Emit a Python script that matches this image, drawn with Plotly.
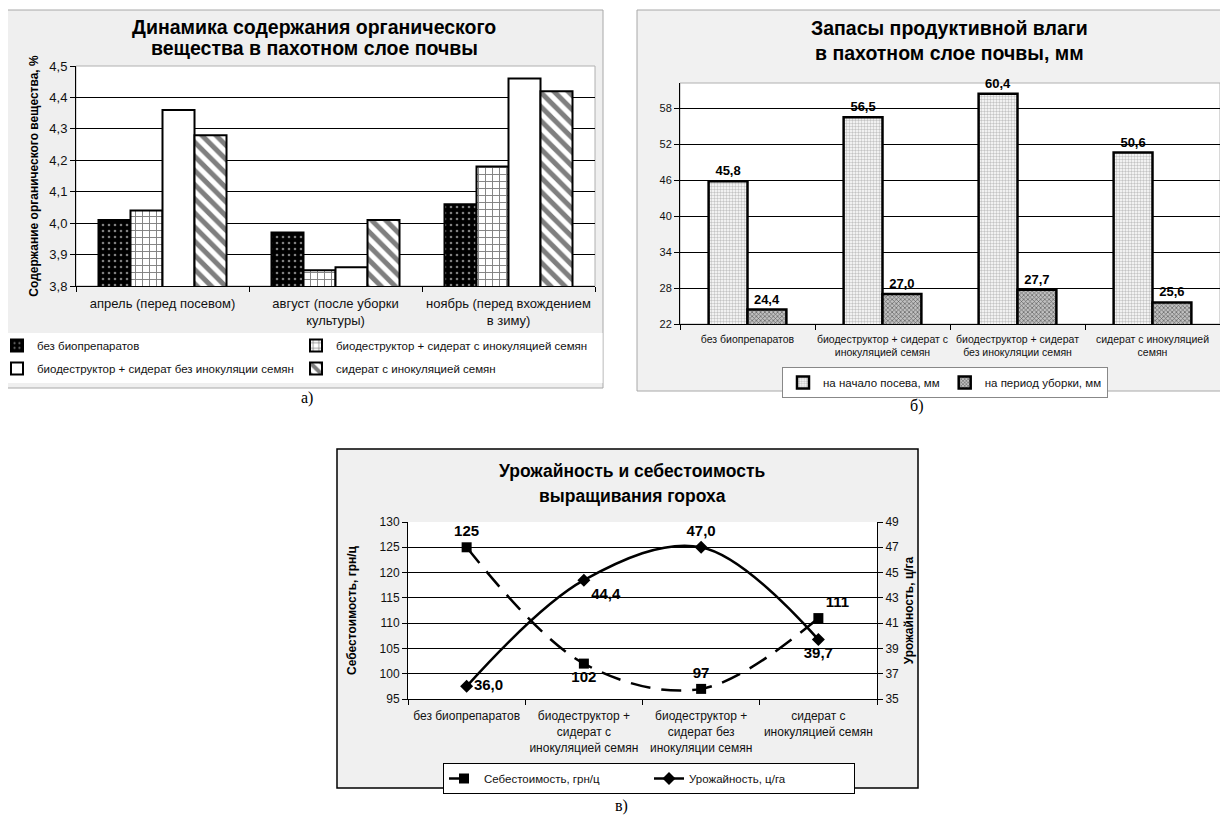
import plotly.graph_objects as go

# the page body adds an 8px margin, so the figure is 8px smaller on each side
W, H = 1220, 810
OFF = 8
def X(px): return (px - OFF) / W
def Y(py): return 1 - (py - OFF) / H

FONT = "Liberation Sans"
SERIF = "Liberation Serif"

# ---------------- data: chart a ----------------
periods = ["апрель (перед посевом)", "август (после уборки<br>культуры)",
           "ноябрь (перед вхождением<br>в зиму)"]
a_names = ["без биопрепаратов", "биодеструктор + сидерат с инокуляцией семян",
           "биодеструктор + сидерат без инокуляции семян", "сидерат с инокуляцией семян"]
a_no_bio = [4.01, 3.97, 4.06]
a_bio_inoc = [4.04, 3.85, 4.18]
a_bio_noinoc = [4.36, 3.86, 4.46]
a_sid_inoc = [4.28, 4.01, 4.42]
a_ticks = [3.8, 3.9, 4.0, 4.1, 4.2, 4.3, 4.4, 4.5]

# ---------------- data: chart b ----------------
variants_b = ["без биопрепаратов", "биодеструктор + сидерат с<br>инокуляцией семян",
              "биодеструктор + сидерат<br>без инокуляции семян", "сидерат с инокуляцией<br>семян"]
b_names = ["на начало посева, мм", "на период уборки, мм"]
b_sowing = [45.8, 56.5, 60.4, 50.6]
b_harvest = [24.4, 27.0, 27.7, 25.6]
b_ticks = [22, 28, 34, 40, 46, 52, 58]

# ---------------- data: chart c ----------------
variants_c = ["без биопрепаратов", "биодеструктор +<br>сидерат с<br>инокуляцией семян",
              "биодеструктор +<br>сидерат без<br>инокуляции семян", "сидерат с<br>инокуляцией семян"]
c_names = ["Себестоимость, грн/ц", "Урожайность, ц/га"]
c_cost = [125, 102, 97, 111]
c_yield = [36.0, 44.4, 47.0, 39.7]
c_left_ticks = [95, 100, 105, 110, 115, 120, 125, 130]
c_right_ticks = [35, 37, 39, 41, 43, 45, 47, 49]

fig = go.Figure()

# ---- chart a bars ----
a_series = [a_no_bio, a_bio_inoc, a_bio_noinoc, a_sid_inoc]
a_patterns = [
    dict(shape=".", fgcolor="white", bgcolor="black", size=6, solidity=0.15),
    dict(shape="+", fgcolor="black", bgcolor="white", size=7, solidity=0.25),
    dict(shape="", bgcolor="white"),
    dict(shape="\\", fgcolor="black", bgcolor="white", size=10, solidity=0.5),
]
a_offsets = [-0.37, -0.185, 0.0, 0.185]
a_legends = ["legend", "legend2", "legend", "legend2"]
for i in range(4):
    fig.add_trace(go.Bar(
        x=periods, y=a_series[i], name=a_names[i], xaxis="x", yaxis="y",
        width=0.185, offset=a_offsets[i],
        marker=dict(color="white", pattern=a_patterns[i], line=dict(color="black", width=2)),
        legend=a_legends[i], legendgroup="a%d" % i,
    ))

# ---- chart b bars ----
b_series = [b_sowing, b_harvest]
b_patterns = [
    dict(shape=".", fgcolor="#8a8a8a", bgcolor="white", size=3, solidity=0.5),
    dict(shape="x", fgcolor="black", bgcolor="#c0c0c0", size=3, solidity=0.4),
]
b_offsets = [-0.288, 0.0]
for i in range(2):
    fig.add_trace(go.Bar(
        x=variants_b, y=b_series[i], name=b_names[i], xaxis="x2", yaxis="y2",
        width=0.288, offset=b_offsets[i],
        marker=dict(color="white", pattern=b_patterns[i], line=dict(color="black", width=2.5)),
        texttemplate="%{y:.1f}", textposition="outside", cliponaxis=False,
        textfont=dict(family=FONT, size=13, color="black", weight="bold"),
        legend="legend3",
    ))

# ---- chart c lines ----
fig.add_trace(go.Scatter(
    x=variants_c, y=c_cost, name=c_names[0], xaxis="x3", yaxis="y3",
    mode="lines+markers+text",
    line=dict(color="black", width=2.5, dash="20px,11px", shape="spline", smoothing=1.0),
    marker=dict(symbol="square", size=10, color="black"),
    text=[str(v) for v in c_cost],
    textposition=["top center", "bottom center", "top center", "top right"],
    textfont=dict(family=FONT, size=15, color="black", weight="bold"),
    cliponaxis=False, legend="legend4",
))
fig.add_trace(go.Scatter(
    x=variants_c, y=c_yield, name=c_names[1], xaxis="x3", yaxis="y4",
    mode="lines+markers+text",
    line=dict(color="black", width=2.5, shape="spline", smoothing=1.0),
    marker=dict(symbol="diamond", size=10, color="black"),
    texttemplate="%{y:.1f}",
    textposition=["middle right", "bottom right", "top center", "bottom center"],
    textfont=dict(family=FONT, size=15, color="black", weight="bold"),
    cliponaxis=False, legend="legend4",
))

# ---- background shapes ----
def rect(x0, x1, y0, y1, fill, lc=None, lw=0):
    return dict(type="rect", xref="paper", yref="paper", x0=X(x0), x1=X(x1), y0=Y(y1), y1=Y(y0),
                fillcolor=fill, line=dict(color=lc or fill, width=lw), layer="below")

shapes = [
    # chart a
    rect(7, 603, 10, 388, "#efefef", "#a8a8a8", 1),
    rect(7.5, 602.5, 333, 383, "white"),
    rect(76, 595, 66, 286, "white", "#b0b0b0", 1),
    # chart b
    rect(637, 1222, 10, 391, "#f1f1f1", "#a8a8a8", 1),
    rect(680, 1220, 83, 324, "white", "#b0b0b0", 1),
    # chart c
    rect(337, 918, 449, 788, "#f0f0f0", "black", 1.5),
    rect(408, 877, 522, 699, "white"),
]

def text_ann(text, x, y, size, family=FONT):
    return dict(text=text, x=X(x), y=Y(y), xref="paper", yref="paper", showarrow=False,
                xanchor="center", yanchor="middle", align="center",
                font=dict(family=family, size=size, color="black"))

annotations = [
    text_ann("<b>Динамика содержания органического</b>", 314, 27, 19.5),
    text_ann("<b>вещества в пахотном слое почвы</b>", 314, 48, 19.5),
    text_ann("<b>Запасы продуктивной влаги</b>", 950, 28, 19.5),
    text_ann("<b>в пахотном слое почвы, мм</b>", 950, 53, 19.5),
    text_ann("<b>Урожайность и себестоимость</b>", 632, 471, 17.5),
    text_ann("<b>выращивания гороха</b>", 632, 496, 17.5),
    text_ann("а)", 307, 398, 16, SERIF),
    text_ann("б)", 917, 406, 16, SERIF),
    text_ann("в)", 621, 806, 16, SERIF),
]

axis_common = dict(showline=True, linecolor="black", linewidth=1, ticks="outside",
                   tickcolor="black", ticklen=5, zeroline=False)

fig.update_layout(
    width=W, height=H, margin=dict(l=0, r=0, t=0, b=0, autoexpand=False),
    paper_bgcolor="white", plot_bgcolor="white",
    separators=", ", showlegend=True,
    font=dict(family=FONT, color="black"),
    shapes=shapes, annotations=annotations,
    barmode="overlay",
    xaxis=dict(domain=[X(76), X(595)], anchor="y", type="category", range=[-0.5, 2.5],
               tickson="boundaries", showgrid=False, tickangle=0, ticklabelstandoff=5,
               tickfont=dict(family=FONT, size=13, color="#111"), **axis_common),
    yaxis=dict(domain=[Y(286), Y(66)], anchor="x", range=[3.8, 4.5], tickvals=a_ticks,
               tickformat=".1f", showgrid=True, gridcolor="black", gridwidth=1,
               tickfont=dict(family=FONT, size=13, color="#111"),
               title=dict(text="<b>Содержание органического вещества, %</b>",
                          font=dict(family=FONT, size=12), standoff=8),
               **axis_common),
    xaxis2=dict(domain=[X(680), X(1220)], anchor="y2", type="category", range=[-0.5, 3.5],
                tickson="boundaries", showgrid=False, tickangle=0, ticklabelstandoff=5,
                tickfont=dict(family=FONT, size=10.5, color="#111"), **axis_common),
    yaxis2=dict(domain=[Y(324), Y(83)], anchor="x2", range=[22, 62.2], tickvals=b_ticks,
                showgrid=True, gridcolor="black", gridwidth=1,
                tickfont=dict(family=FONT, size=11, color="#111"), **axis_common),
    xaxis3=dict(domain=[X(408), X(877)], anchor="y3", type="category", range=[-0.5, 3.5],
                tickson="boundaries", showgrid=False, tickangle=0, ticklabelstandoff=6,
                tickfont=dict(family=FONT, size=12, color="#111"), **axis_common),
    yaxis3=dict(domain=[Y(699), Y(522)], anchor="x3", range=[95, 130], tickvals=c_left_ticks,
                showgrid=True, gridcolor="black", gridwidth=1,
                tickfont=dict(family=FONT, size=12, color="#111"),
                title=dict(text="<b>Себестоимость, грн/ц</b>", font=dict(family=FONT, size=12),
                           standoff=20),
                **axis_common),
    yaxis4=dict(domain=[Y(699), Y(522)], anchor="x3", overlaying="y3", side="right",
                range=[35, 49], tickvals=c_right_ticks, showgrid=False,
                tickfont=dict(family=FONT, size=12, color="#111"),
                title=dict(text="<b>Урожайность, ц/га</b>", font=dict(family=FONT, size=12),
                           standoff=6),
                **axis_common),
    legend=dict(x=X(-3), y=Y(331), xanchor="left", yanchor="top", orientation="v",
                bgcolor="rgba(0,0,0,0)", tracegroupgap=4, itemwidth=30,
                font=dict(family=FONT, size=11.5, color="#111")),
    legend2=dict(x=X(296), y=Y(331), xanchor="left", yanchor="top", orientation="v",
                 bgcolor="rgba(0,0,0,0)", tracegroupgap=4, itemwidth=30,
                 font=dict(family=FONT, size=11.5, color="#111")),
    legend3=dict(x=X(945), y=Y(367), xanchor="center", yanchor="top", orientation="h",
                 bgcolor="white", bordercolor="#888", borderwidth=1, itemwidth=30,
                 font=dict(family=FONT, size=11.5, color="#111")),
    legend4=dict(x=X(649), y=Y(763), xanchor="center", yanchor="top", orientation="h",
                 bgcolor="white", bordercolor="black", borderwidth=1,
                 entrywidth=160,
                 font=dict(family=FONT, size=11.5, color="#111")),
)

fig.write_html("out.html")
